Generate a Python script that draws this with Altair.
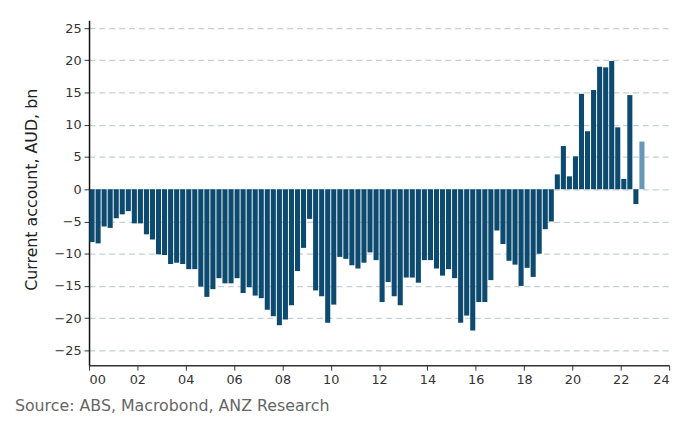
import altair as alt
import pandas as pd

# ---- data (quarterly current account balance, AUD bn) ----
years = list(range(2000, 2023))
quarters = ["Q1", "Q2", "Q3", "Q4"]
periods = [f"{y}{q}" for y in years for q in quarters]

current_account = [
    -8.2, -8.4, -5.8, -6.0, -4.5, -3.9, -3.4, -5.3, -5.3, -7.0, -7.8, -10.1,
    -10.2, -11.6, -11.4, -11.6, -12.4, -12.4, -15.1, -16.7, -15.5, -13.8, -14.6, -14.6,
    -13.8, -16.1, -15.2, -16.5, -16.9, -18.7, -19.7, -21.1, -20.2, -18.0, -12.7, -9.1,
    -4.6, -15.7, -16.6, -20.7, -17.9, -10.5, -10.8, -11.8, -12.3, -11.4, -9.8, -11.0,
    -17.5, -14.4, -16.6, -18.0, -13.7, -13.7, -14.5, -11.0, -11.0, -12.3, -13.4, -12.4,
    -13.8, -20.7, -19.6, -21.9, -17.5, -17.5, -14.1, -6.4, -8.5, -11.1, -11.7, -15.0,
    -12.2, -13.6, -10.0, -6.2, -5.0, 2.3, 6.7, 2.0, 5.1, 14.8, 9.0, 15.4,
    19.0, 18.9, 19.9, 9.6, 1.6, 14.6, -2.3, 7.4,
]
latest_period = "2022Q4"

y_ticks = [-25, -20, -15, -10, -5, 0, 5, 10, 15, 20, 25]
x_ticks = list(range(2000, 2025, 2))
y_title = "Current account, AUD, bn"
source_text = "Source: ABS, Macrobond, ANZ Research"

DARK = "#0d4a6f"
LIGHT = "#6797b8"
FONT = "DejaVu Sans"

df = pd.DataFrame({"period": periods, "value": current_account})
df["t"] = [int(p[:4]) + (int(p[-1]) - 1) / 4 for p in periods]
df["t0"] = df["t"] + 0.02
df["t1"] = df["t"] + 0.23
df["status"] = ["Latest" if p == latest_period else "History" for p in periods]

W, H = 587, 349

bars = alt.Chart(df).mark_bar().encode(
    x=alt.X(
        "t0:Q",
        scale=alt.Scale(domain=[2000, 2024], nice=False, zero=False),
        axis=alt.Axis(
            values=x_ticks,
            labelExpr="substring(toString(datum.value), 2, 4)",
            title=None,
            grid=False,
            domainColor="#333333",
            domainWidth=1.5,
            tickColor="#333333",
            tickSize=5,
            labelFont=FONT,
            labelFontSize=13,
            labelColor="#333333",
            labelPadding=4,
        ),
    ),
    x2="t1:Q",
    y=alt.Y(
        "value:Q",
        scale=alt.Scale(domain=[-27.3, 26.2], nice=False),
        axis=alt.Axis(
            values=y_ticks,
            title=y_title,
            titleFont=FONT,
            titleFontSize=16,
            titleFontWeight="normal",
            titleColor="#222222",
            titleX=-58,
            titleY=171,
            titleBaseline="middle",
            grid=True,
            gridDash=[6, 4],
            gridColor="#c4d0d8",
            gridWidth=1.3,
            domainColor="#111111",
            domainWidth=1.5,
            tickColor="#333333",
            tickSize=5,
            labelFont=FONT,
            labelFontSize=13,
            labelColor="#333333",
            labelPadding=3,
        ),
    ),
    y2=alt.datum(0),
    color=alt.Color(
        "status:N",
        scale=alt.Scale(domain=["History", "Latest"], range=[DARK, LIGHT]),
        legend=None,
    ),
)

source = alt.Chart(pd.DataFrame({"txt": [source_text]})).mark_text(
    align="left", baseline="middle", font=FONT, fontSize=16, color="#666666"
).encode(text="txt:N", x=alt.value(-75), y=alt.value(H + 41))

chart = alt.layer(bars, source).properties(
    width=W,
    height=H,
    autosize=alt.AutoSizeParams(type="none"),
    padding={"left": 82, "top": 10, "right": 10, "bottom": 56},
).configure_view(stroke=None)

chart.save("out.html", embed_options={"renderer": "svg", "actions": False})
